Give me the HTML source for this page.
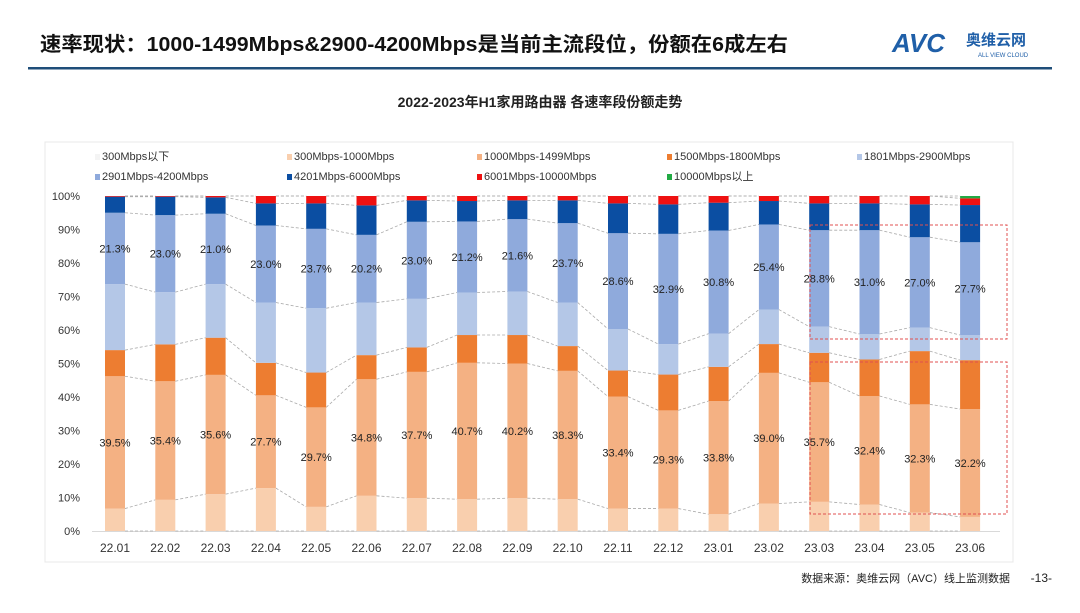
<!DOCTYPE html>
<html><head><meta charset="utf-8">
<style>
body{margin:0;width:1080px;height:608px;background:#fff;overflow:hidden;font-family:"Liberation Sans","Noto Sans CJK SC",sans-serif;}
svg text{font-family:"Liberation Sans","Noto Sans CJK SC",sans-serif;}
</style></head>
<body>
<svg id="c" width="1080" height="608">
<text x="40" y="51" font-size="20" font-weight="bold" fill="#111" textLength="748" lengthAdjust="spacingAndGlyphs">速率现状：1000-1499Mbps&amp;2900-4200Mbps是当前主流段位，份额在6成左右</text>
<g>
<text x="892" y="52" font-size="26" font-weight="bold" font-style="italic" fill="#1f5fa8">AVC</text>
<text x="966" y="45" font-size="15" font-weight="bold" fill="#1f5fa8">奥维云网</text>
<text x="978" y="57" font-size="6" fill="#1f5fa8">ALL VIEW CLOUD</text>
</g>
<rect x="28" y="67" width="1024" height="2.5" fill="#1f4e79"/>
<text x="540" y="107" font-size="14" font-weight="bold" text-anchor="middle" fill="#222">2022-2023年H1家用路由器 各速率段份额走势</text>
<rect x="45" y="142" width="968" height="420" fill="none" stroke="#e8e8e8"/>
<g id="legend"></g>
<g id="plot"></g>
<text x="1010" y="582" font-size="11" text-anchor="end" fill="#222">数据来源：奥维云网（AVC）线上监测数据</text>
<text x="1052" y="582" font-size="12" text-anchor="end" fill="#222">-13-</text>
</svg>
<script>
const categories=["22.01","22.02","22.03","22.04","22.05","22.06","22.07","22.08","22.09","22.10","22.11","22.12","23.01","23.02","23.03","23.04","23.05","23.06"];
const seriesNames=["300Mbps以下","300Mbps-1000Mbps","1000Mbps-1499Mbps","1500Mbps-1800Mbps","1801Mbps-2900Mbps","2901Mbps-4200Mbps","4201Mbps-6000Mbps","6001Mbps-10000Mbps","10000Mbps以上"];
const s300below=[0,0,0,0,0,0,0,0,0,0,0,0,0,0,0,0,0,0];
const s300to1000=[6.7,9.3,11,12.8,7.2,10.5,9.8,9.5,9.8,9.5,6.7,6.7,5,8.2,8.7,7.9,5.5,4.2];
const s1000to1499=[39.5,35.4,35.6,27.7,29.7,34.8,37.7,40.7,40.2,38.3,33.4,29.3,33.8,39.0,35.7,32.4,32.3,32.2];
const s1500to1800=[7.8,11,11.1,9.7,10.4,7.2,7.3,8.3,8.5,7.4,7.8,10.7,10.2,8.6,8.8,10.9,15.9,14.6];
const s1801to2900=[19.7,15.6,16,18,19.2,15.7,14.5,12.7,13,13,12.4,9.1,9.9,10.3,7.8,7.6,7,7.5];
const s2901to4200=[21.3,23.0,21.0,23.0,23.7,20.2,23.0,21.2,21.6,23.7,28.6,32.9,30.8,25.4,28.8,31.0,27.0,27.7];
const s4201to6000=[4.8,5.5,4.9,6.6,7.6,8.8,6.4,6.1,5.6,6.8,8.9,8.8,8.3,7,8,8,9.8,11.1];
const s6001to10000=[0.2,0.2,0.4,2.2,2.2,2.8,1.3,1.5,1.3,1.3,2.2,2.5,2,1.5,2.2,2.2,2.5,2];
const s10000up=[0,0,0,0,0,0,0,0,0,0,0,0,0,0,0,0,0,0.7];
const yTicks=[0,10,20,30,40,50,60,70,80,90,100];
const series=[s300below,s300to1000,s1000to1499,s1500to1800,s1801to2900,s2901to4200,s4201to6000,s6001to10000,s10000up];
const colors=["#f4f4f4","#f9cfae","#f4b183","#ed7d31","#b4c7e7","#8faadc","#0b4ea2","#ee1111","#22aa44"];
const labelSeries=[2,5];
const NS="http://www.w3.org/2000/svg";
const y0=531,y1=196,xFirst=115,xStep=50.3,bw=20;
const yS=v=>y0-(v/100)*(y0-y1);
const xS=i=>xFirst+i*xStep;
function mk(t,a,p){const e=document.createElementNS(NS,t);for(const k in a)e.setAttribute(k,a[k]);p.appendChild(e);return e;}
const plot=document.getElementById('plot');
const leg=document.getElementById('legend');
seriesNames.forEach((n,i)=>{
 const lx=[95,287,477,667,857][i%5], ly=i<5?159:179;
 const g=mk('g',{},leg);
 
 
 mk('rect',{x:lx,y:ly-5,width:5,height:6,fill:colors[i]},g);
 const t=mk('text',{x:lx+7,y:ly+1,'font-size':11,fill:'#333'},g);t.textContent=n;
});
yTicks.forEach(v=>{
 const t=mk('text',{x:80,y:yS(v)+4,'font-size':11,'text-anchor':'end',fill:'#333'},plot);
 
 
 t.textContent=v+'%';
});
const ax=mk('line',{x1:92,x2:1000,y1:y0+0.5,y2:y0+0.5,stroke:'#d9d9d9'},plot);


const cum=categories.map((c,i)=>{let s=0;return series.map(a=>{const b=s;s+=a[i];return [b,s];});});
for(let k=0;k<series.length;k++){
 for(let i=0;i<categories.length-1;i++){
  const l=mk('line',{x1:xS(i)+bw/2,y1:yS(cum[i][k][1]),x2:xS(i+1)-bw/2,y2:yS(cum[i+1][k][1]),stroke:'#aaa','stroke-dasharray':'3,2','stroke-width':0.8},plot);
  
  
 }
}
categories.forEach((c,i)=>{
 series.forEach((a,k)=>{
  if(a[i]<=0)return;
  const [b,t]=cum[i][k];
  const r=mk('rect',{x:xS(i)-bw/2,y:yS(t),width:bw,height:yS(b)-yS(t),fill:colors[k]},plot);
  
  
 });
 labelSeries.forEach(k=>{
  const [b,t]=cum[i][k];
  const tx=mk('text',{x:xS(i),y:(yS(b)+yS(t))/2+4,'font-size':11,'text-anchor':'middle',fill:'#222'},plot);
  
  
  tx.textContent=series[k][i].toFixed(1)+'%';
 });
 const xl=mk('text',{x:xS(i),y:552,'font-size':12,'text-anchor':'middle',fill:'#333'},plot);
 
 
 xl.textContent=c;
});
const b1=mk('rect',{x:810,y:225,width:197,height:114,fill:'none',stroke:'#e05050','stroke-dasharray':'3,2'},plot);


const b2=mk('rect',{x:810,y:362,width:197,height:152,fill:'none',stroke:'#e05050','stroke-dasharray':'3,2'},plot);


</script>
</body></html>
